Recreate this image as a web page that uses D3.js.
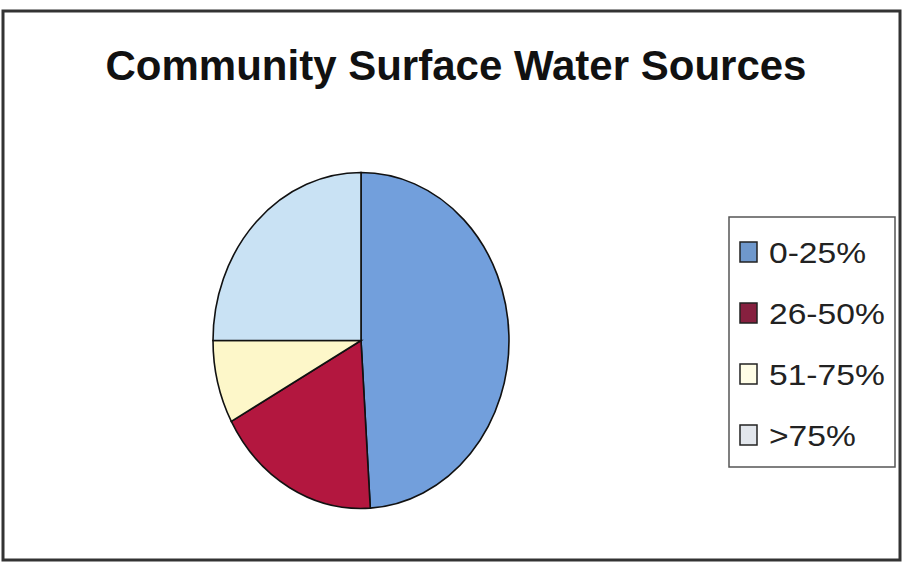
<!DOCTYPE html>
<html>
<head>
<meta charset="utf-8">
<script src="https://cdn.jsdelivr.net/npm/d3@7"></script>
<style>
  body { margin: 0; background: #fff; }
  svg { display: block; font-family: "Liberation Sans", Arial, sans-serif; }
</style>
</head>
<body>
<div id="chart"></div>
<script>
// data
var categories = ["0-25%", "26-50%", "51-75%", ">75%"];
var shares = [49, 18, 8, 25];
var sliceColors = ["#729fdc", "#b3173f", "#fdf7c9", "#c9e2f4"];
var swatchColors = ["#6f98cc", "#86203f", "#fffde6", "#e2e6ec"];

var W = 904, H = 563;

var svg = d3.select('#chart').append('svg')
    .attr('width', W)
    .attr('height', H);

// chart frame
svg.append('rect')
    .attr('x', 3).attr('y', 11)
    .attr('width', 897).attr('height', 549)
    .attr('fill', '#fff')
    .attr('stroke', '#333')
    .attr('stroke-width', 3);

// title
svg.append('text')
    .attr('x', 456)
    .attr('y', 80)
    .attr('text-anchor', 'middle')
    .style('font-weight', 'bold')
    .attr('font-size', '42px')
    .attr('fill', '#111')
    .text('Community Surface Water Sources');

// pie (drawn as a circle then stretched to the ellipse of the picture)
var R = 160;
var pie = d3.pie().sort(null).value(function(d){ return d; });
var arc = d3.arc().innerRadius(0).outerRadius(R);

var g = svg.append('g')
    .attr('transform', 'translate(361,340.5)scale(' + (148/R) + ',' + (168/R) + ')');

g.selectAll('path')
    .data(pie(shares))
    .enter()
    .append('path')
    .attr('d', arc)
    .attr('fill', function(d,i){ return sliceColors[i]; })
    .attr('stroke', '#111')
    .attr('stroke-width', 1.6)
    .attr('vector-effect', 'non-scaling-stroke');

// legend
var legend = svg.append('g');
legend.append('rect')
    .attr('x', 729).attr('y', 217)
    .attr('width', 166).attr('height', 250)
    .attr('fill', '#fff')
    .attr('stroke', '#555')
    .attr('stroke-width', 1.5);

var y = d3.scalePoint().domain(categories).range([263, 446]);

var items = legend.selectAll('g.item')
    .data(categories)
    .enter()
    .append('g')
    .attr('class', 'item')
    .attr('transform', function(d){ return 'translate(0,' + y(d) + ')'; });

items.append('rect')
    .attr('x', 740).attr('y', -21)
    .attr('width', 17).attr('height', 20)
    .attr('fill', function(d,i){ return swatchColors[i]; })
    .attr('stroke', '#222')
    .attr('stroke-width', 1.5);

// labels are a bit wider in the picture than the font gives
items.append('text')
    .attr('transform', 'translate(769,0)scale(1.12,1)')
    .attr('font-size', '30px')
    .attr('fill', '#222')
    .text(function(d){ return d; });
</script>
</body>
</html>
